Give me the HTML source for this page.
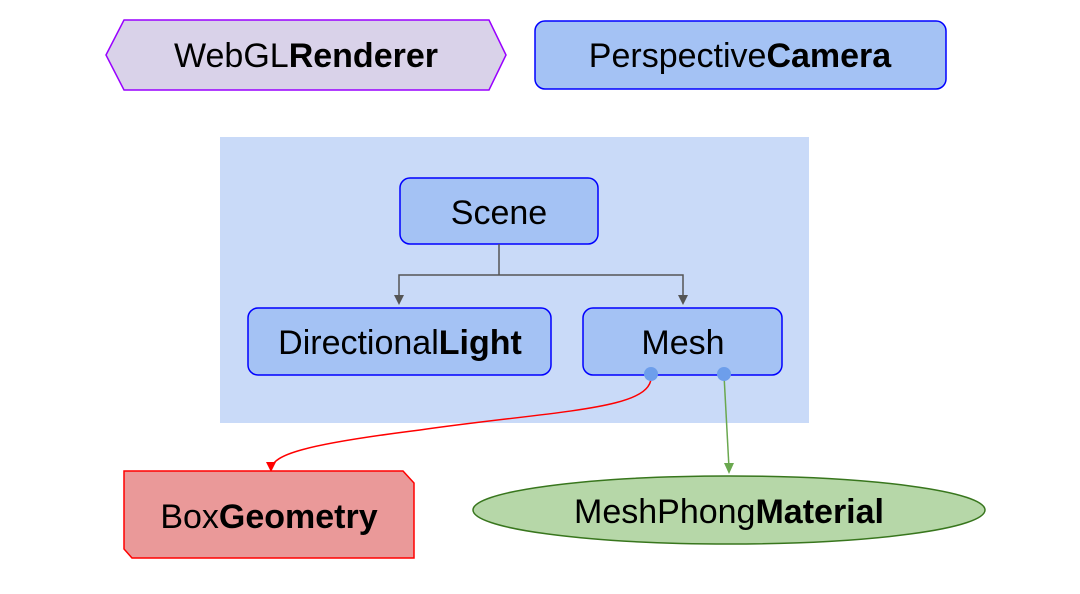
<!DOCTYPE html>
<html><head><meta charset="utf-8"><style>
html,body{margin:0;padding:0;background:#fff;width:1080px;height:594px;overflow:hidden}
text{font-family:"Liberation Sans",sans-serif;font-size:34px;fill:#000}
</style></head><body>
<svg width="1080" height="594" viewBox="0 0 1080 594" xmlns="http://www.w3.org/2000/svg">
<polygon points="106,55 124,20 489,20 506,55 489,90 124,90" fill="#d9d2e9" stroke="#9900ff" stroke-width="1.5"/>
<text x="306" y="67" text-anchor="middle">WebGL<tspan font-weight="bold">Renderer</tspan></text>
<rect x="535" y="21" width="411" height="68" rx="10" fill="#a4c2f4" stroke="#0000ff" stroke-width="1.5"/>
<text x="740" y="67" text-anchor="middle">Perspective<tspan font-weight="bold">Camera</tspan></text>
<rect x="220" y="137" width="589" height="286" fill="#c9daf8"/>
<rect x="400" y="178" width="198" height="66" rx="10" fill="#a4c2f4" stroke="#0000ff" stroke-width="1.5"/>
<text x="499" y="224" text-anchor="middle">Scene</text>
<path d="M499,244 V275 H399 V303 M499,275 H683 V303" fill="none" stroke="#555" stroke-width="1.5"/>
<path d="M394,295 L404,295 L399,305z M678,295 L688,295 L683,305z" fill="#555"/>
<rect x="248" y="308" width="303" height="67" rx="10" fill="#a4c2f4" stroke="#0000ff" stroke-width="1.5"/>
<text x="400" y="354" text-anchor="middle">Directional<tspan font-weight="bold">Light</tspan></text>
<rect x="583" y="308" width="199" height="67" rx="10" fill="#a4c2f4" stroke="#0000ff" stroke-width="1.5"/>
<text x="683" y="354" text-anchor="middle">Mesh</text>
<path d="M651,375 C655,410 560,410 420,430 C300,445 275,455 271,468" fill="none" stroke="#ff0000" stroke-width="1.5"/>
<path d="M266,462 L276,462 L271,472z" fill="#ff0000"/>
<path d="M724,375 L729,468" fill="none" stroke="#6aa84f" stroke-width="1.5"/>
<path d="M724,463 L734,463 L729,474z" fill="#6aa84f"/>
<ellipse cx="651" cy="374" rx="7" ry="7" fill="#6d9eeb"/>
<ellipse cx="724" cy="374" rx="7" ry="7" fill="#6d9eeb"/>
<polygon points="124,471 403,471 414,483 414,558 132,558 124,549" fill="#ea9999" stroke="#ff0000" stroke-width="1.5"/>
<text x="269" y="528" text-anchor="middle">Box<tspan font-weight="bold">Geometry</tspan></text>
<ellipse cx="729" cy="510" rx="256" ry="34" fill="#b6d7a8" stroke="#38761d" stroke-width="1.5"/>
<text x="729" y="523" text-anchor="middle">MeshPhong<tspan font-weight="bold">Material</tspan></text>
</svg>
</body></html>
